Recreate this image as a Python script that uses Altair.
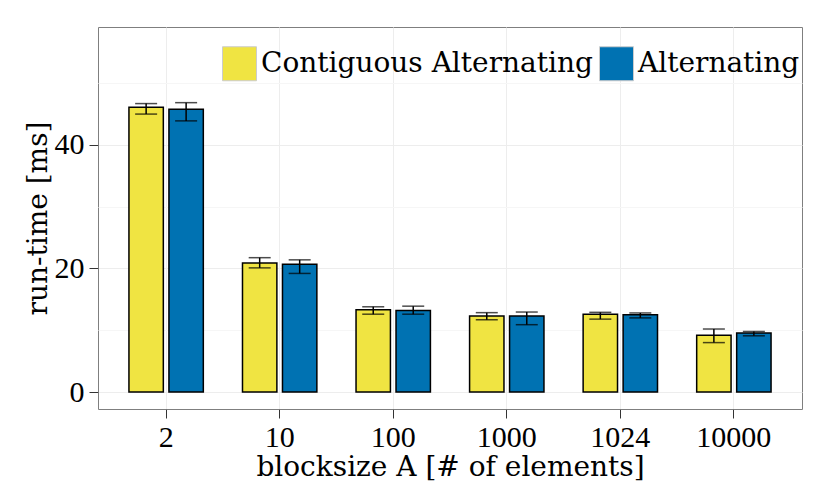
import altair as alt
import pandas as pd

categories = ["2", "10", "100", "1000", "1024", "10000"]
series_names = ["Contiguous Alternating", "Alternating"]

contig_mean = [46.1, 20.9, 13.3, 12.3, 12.6, 9.2]
contig_lo = [45.0, 20.1, 12.6, 11.7, 11.8, 8.0]
contig_hi = [46.7, 21.75, 13.8, 12.85, 12.9, 10.2]

alt_mean = [45.8, 20.7, 13.2, 12.3, 12.5, 9.55]
alt_lo = [43.9, 19.2, 12.6, 10.9, 12.0, 9.1]
alt_hi = [46.85, 21.4, 13.9, 12.95, 12.8, 9.8]

colors = ["#F0E442", "#0072B2"]
y_ticks = [0, 10, 20, 30, 40, 50]

rows = []
for name, m, lo, hi in [
    (series_names[0], contig_mean, contig_lo, contig_hi),
    (series_names[1], alt_mean, alt_lo, alt_hi),
]:
    for c, mv, lv, hv in zip(categories, m, lo, hi):
        rows.append({"block": c, "series": name, "mean": mv, "lo": lv, "hi": hv})
df = pd.DataFrame(rows)

FONT = "'Liberation Serif', 'Times New Roman', serif"
TFONT = "'DejaVu Serif', serif"
TSIZE = 28

x_enc = alt.X(
    "block:N",
    sort=categories,
    scale=alt.Scale(paddingInner=0.345, paddingOuter=0.2725),
    axis=alt.Axis(
        title="blocksize A [# of elements]",
        labelAngle=0,
        grid=True,
        gridColor="#ededed",
        titlePadding=1,
        labelPadding=4,
    ),
)
xo_enc = alt.XOffset(
    "series:N",
    sort=series_names,
    scale=alt.Scale(paddingInner=0.14, paddingOuter=0),
)
y_scale = alt.Scale(domain=[-2.75, 59.1], nice=False, zero=False)

base = alt.Chart(df)

bars = base.mark_bar(stroke="black", strokeWidth=1.5).encode(
    x=x_enc,
    xOffset=xo_enc,
    y=alt.Y(
        "mean:Q",
        scale=y_scale,
        axis=alt.Axis(
            title="run-time [ms]",
            values=y_ticks,
            labelExpr="datum.value % 20 === 0 ? datum.label : ''",
            gridColor={
                "condition": {"test": "datum.value % 20 === 0", "value": "#ededed"},
                "value": "#f6f6f6",
            },
            tickColor={
                "condition": {"test": "datum.value % 20 === 0", "value": "#333333"},
                "value": "transparent",
            },
            titlePadding=2,
            labelPadding=5,
        ),
    ),
    y2=alt.datum(0),
    color=alt.Color(
        "series:N",
        sort=series_names,
        scale=alt.Scale(domain=series_names, range=colors),
        legend=alt.Legend(
            title=None,
            orient="none",
            legendX=124,
            legendY=19,
            direction="horizontal",
            columns=2,
            symbolType="square",
            symbolSize=1156,
            symbolStrokeColor="#cccccc",
            symbolStrokeWidth=1,
            labelFontSize=TSIZE,
            labelFont=TFONT,
            labelColor="black",
            labelOffset=4,
            labelLimit=0,
            columnPadding=4,
            padding=0,
        ),
    ),
)

rules = base.mark_rule(color="black", strokeWidth=1.5).encode(
    x=x_enc, xOffset=xo_enc, y=alt.Y("lo:Q", scale=y_scale), y2="hi:Q"
)
cap_lo = base.mark_tick(color="black", thickness=1.5, size=22).encode(
    x=x_enc, xOffset=xo_enc, y=alt.Y("lo:Q", scale=y_scale)
)
cap_hi = base.mark_tick(color="black", thickness=1.5, size=22).encode(
    x=x_enc, xOffset=xo_enc, y=alt.Y("hi:Q", scale=y_scale)
)

chart = (
    alt.layer(bars, rules, cap_lo, cap_hi)
    .properties(
        width=704,
        height=382,
        autosize=alt.AutoSizeParams(type="none"),
        padding={"left": 90, "top": 19, "right": 12, "bottom": 84},
    )
    .configure_view(stroke="#7f7f7f", strokeWidth=1)
    .configure_axis(
        domain=False,
        tickColor="#333333",
        tickSize=9,
        tickWidth=1,
        labelFont=FONT,
        labelFontSize=30,
        labelColor="black",
        titleFont=TFONT,
        titleFontSize=TSIZE,
        titleFontWeight="normal",
        titleColor="black",
    )
)

chart.save("out.html", embed_options={"renderer": "svg", "actions": False})
